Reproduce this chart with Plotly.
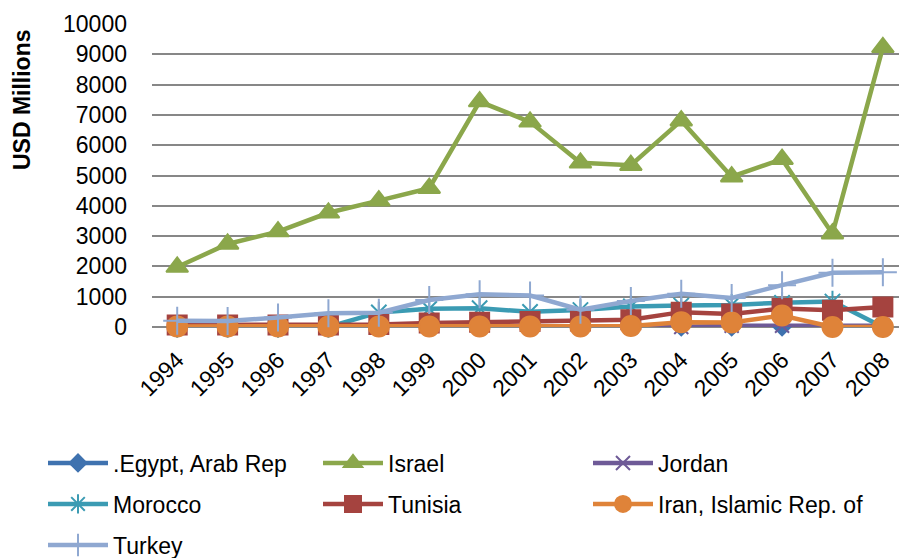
import plotly.graph_objects as go

years = [str(y) for y in range(1994, 2009)]

egypt   = [0, 0, 0, 0, 0, 0, 0, 0, 0, 0, 0, 0, 0, 0, 0]
israel  = [1980, 2740, 3150, 3770, 4170, 4580, 7440, 6770, 5420, 5340, 6810, 4960, 5540, 3080, 9230]
jordan  = [0, 0, 0, 0, 0, 0, 0, 0, 0, 0, 0, 40, 40, 40, 40]
morocco = [0, 0, 0, 0, 480, 600, 620, 500, 560, 680, 710, 730, 800, 840, 0]
tunisia = [70, 70, 70, 70, 80, 130, 160, 180, 200, 240, 490, 430, 610, 550, 660]
iran    = [20, 20, 20, 20, 20, 20, 20, 20, 20, 30, 160, 150, 380, 0, 0]
turkey  = [210, 200, 310, 450, 470, 890, 1080, 1040, 570, 860, 1100, 960, 1380, 1790, 1810]

# name, values, colour, marker symbol, marker size, legend column, legend row
series = [
    (".Egypt, Arab Rep", egypt, "#3F72AF", "diamond", 13, 0, 0),
    ("Israel", israel, "#8BA74B", "triangle-up", 19, 1, 0),
    ("Jordan", jordan, "#6E5A97", "x-thin-open", 14, 2, 0),
    ("Morocco", morocco, "#3B9BB3", "asterisk-open", 18, 0, 1),
    ("Tunisia", tunisia, "#A5433F", "square", 19, 1, 1),
    ("Iran, Islamic Rep. of", iran, "#DF8339", "circle", 20, 2, 1),
    ("Turkey", turkey, "#8FA8D1", "cross-thin-open", 20, 0, 2),
]

font_family = "Liberation Sans, Arial, sans-serif"
col_px = [43, 318, 588]
row_px = [463, 504, 545]

fig = go.Figure()
legends = {}
for i, (name, vals, color, symbol, size, col, row) in enumerate(series):
    key = "legend" if i == 0 else f"legend{i + 1}"
    fig.add_trace(go.Scatter(
        x=years, y=vals, name=name, mode="lines+markers",
        line=dict(color=color, width=4.5),
        marker=dict(symbol=symbol, size=size, color=color,
                    line=dict(color=color, width=2)),
        cliponaxis=False, legend=key, showlegend=True,
    ))
    legends[key] = dict(
        orientation="h", xref="container", yref="container",
        x=col_px[col] / 899, y=1 - row_px[row] / 558,
        xanchor="left", yanchor="middle",
        font=dict(family=font_family, size=23, color="#000000"),
        itemwidth=60, bgcolor="rgba(0,0,0,0)",
    )

fig.update_layout(
    width=899, height=558, showlegend=True,
    margin=dict(l=152, r=0, t=24, b=231, autoexpand=False),
    plot_bgcolor="white", paper_bgcolor="white",
    font=dict(family=font_family, size=23, color="#000000"),
    xaxis=dict(
        type="category", range=[-0.5, 14.32],
        showgrid=False, showline=False, zeroline=False,
        tickangle=-45, ticks="", ticklabelstandoff=14,
        tickfont=dict(size=23),
    ),
    yaxis=dict(
        range=[0, 10000], dtick=1000, tickformat="d",
        showgrid=True, gridcolor="#878787", gridwidth=1.5,
        zeroline=True, zerolinecolor="#878787", zerolinewidth=1.5,
        showline=False, ticks="", ticklabelstandoff=24,
        tickfont=dict(size=23),
    ),
    annotations=[dict(
        text="<b>USD Millions</b>", textangle=-90,
        xref="paper", yref="paper", x=-0.174, y=0.749,
        xanchor="center", yanchor="middle", showarrow=False,
        font=dict(family=font_family, size=23, color="#000000"),
    )],
    **legends,
)

fig.write_html("out.html")
